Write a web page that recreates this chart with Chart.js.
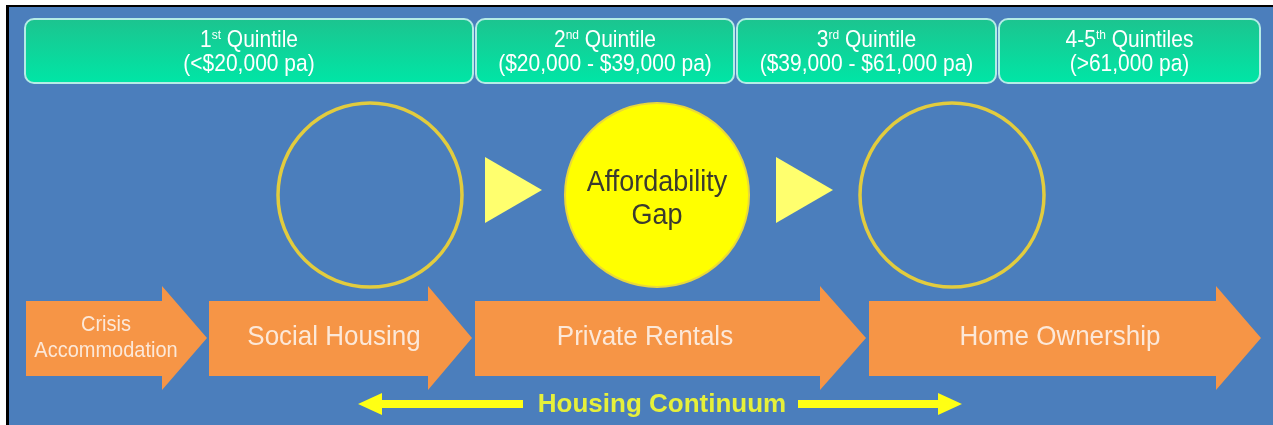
<!DOCTYPE html>
<html><head><meta charset="utf-8">
<script src="https://cdn.jsdelivr.net/npm/chart.js@4/dist/chart.umd.min.js"></script>
<style>html,body{margin:0;padding:0;background:#fff;overflow:hidden}canvas{display:block}</style>
</head><body>
<canvas id="c" width="1273" height="425"></canvas>
<script>
// ---- content ----
const quintileOrdinals = ['1', '2', '3', '4-5'];
const quintileSuffixes = ['st', 'nd', 'rd', 'th'];
const quintileWords = ['Quintile', 'Quintile', 'Quintile', 'Quintiles'];
const incomeBands = ['(<$20,000 pa)', '($20,000 - $39,000 pa)', '($39,000 - $61,000 pa)', '(>61,000 pa)'];
const stages = [['Crisis', 'Accommodation'], ['Social Housing'], ['Private Rentals'], ['Home Ownership']];
const gapLabel = ['Affordability', 'Gap'];
const continuumLabel = 'Housing Continuum';

// ---- layout (axis units) ----
const layout = {
  bands: [[25, 473], [476, 734], [737, 996], [999, 1260]], bandTop: 19, bandBottom: 83,
  stages: [[26, 162, 207], [209, 428, 472], [475, 820, 866], [869, 1216, 1261]],
  stageTextX: [106, 334, 645, 1060],
  shaftTop: 301, shaftBottom: 376, headTop: 286, headBottom: 390,
  circles: [{x: 370, y: 195}, {x: 657, y: 195}, {x: 952, y: 195}],
  triangles: [{x: 504, y: 190}, {x: 795, y: 190}],
  continuum: {y: 404, left: [358, 382, 523], right: [798, 938, 962], textX: 662}
};
const FONT = "'Liberation Sans', Arial, sans-serif";

// text drawn slightly stretched vertically, as in the reference
function tallText(ctx, text, px, py, sy) {
  ctx.save(); ctx.translate(px, py); ctx.scale(1, sy); ctx.fillText(text, 0, 0); ctx.restore();
}

const decor = {
  id: 'decor',
  beforeDatasetsDraw(chart) {
    const {ctx, scales: {x, y}} = chart;
    const X = v => x.getPixelForValue(v), Y = v => y.getPixelForValue(v);
    ctx.save();
    // page frame
    ctx.fillStyle = '#ffffff'; ctx.fillRect(0, 0, chart.width, chart.height);
    ctx.fillStyle = '#000000'; ctx.fillRect(X(6), Y(5), X(1273) - X(6), Y(425) - Y(5));
    ctx.fillStyle = '#4b7ebc'; ctx.fillRect(X(9), Y(7), X(1273) - X(9), Y(425) - Y(7));

    // quintile boxes
    layout.bands.forEach(([a, b], i) => {
      const x0 = X(a), x1 = X(b), y0 = Y(layout.bandTop), y1 = Y(layout.bandBottom);
      const g = ctx.createLinearGradient(0, y0, 0, y1);
      g.addColorStop(0, '#1cc48f'); g.addColorStop(1, '#00e6a6');
      ctx.beginPath(); ctx.roundRect(x0, y0, x1 - x0, y1 - y0, 9);
      ctx.fillStyle = g; ctx.fill();
      ctx.lineWidth = 2; ctx.strokeStyle = '#b4ece6'; ctx.stroke();
      // text line 1 with superscript
      const cx = (x0 + x1) / 2, sy = 1.1;
      const main = '21px ' + FONT, sup = '12px ' + FONT;
      ctx.fillStyle = '#ffffff'; ctx.textBaseline = 'alphabetic'; ctx.textAlign = 'left';
      ctx.font = main; const w1 = ctx.measureText(quintileOrdinals[i]).width;
      const w3 = ctx.measureText(' ' + quintileWords[i]).width;
      ctx.font = sup; const w2 = ctx.measureText(quintileSuffixes[i]).width;
      let sx = cx - (w1 + w2 + w3) / 2; const base1 = Y(47);
      ctx.font = main; tallText(ctx, quintileOrdinals[i], sx, base1, sy);
      ctx.font = sup; tallText(ctx, quintileSuffixes[i], sx + w1, base1 - 8, sy);
      ctx.font = main; tallText(ctx, ' ' + quintileWords[i], sx + w1 + w2, base1, sy);
      ctx.textAlign = 'center';
      tallText(ctx, incomeBands[i], cx, Y(71), sy);
    });

    // orange stage arrows
    layout.stages.forEach(([a, base, tip], i) => {
      const st = Y(layout.shaftTop), sb = Y(layout.shaftBottom), ht = Y(layout.headTop), hb = Y(layout.headBottom);
      const mid = (ht + hb) / 2;
      ctx.beginPath();
      ctx.moveTo(X(a), st); ctx.lineTo(X(base), st); ctx.lineTo(X(base), ht);
      ctx.lineTo(X(tip), mid); ctx.lineTo(X(base), hb); ctx.lineTo(X(base), sb);
      ctx.lineTo(X(a), sb); ctx.closePath();
      ctx.fillStyle = '#f69546'; ctx.fill();
      ctx.fillStyle = '#fce8d8'; ctx.textAlign = 'center'; ctx.textBaseline = 'middle';
      const lines = stages[i];
      if (lines.length === 1) {
        ctx.font = '26px ' + FONT; tallText(ctx, lines[0], X(layout.stageTextX[i]), Y(337), 1.08);
      } else {
        ctx.font = '20px ' + FONT;
        tallText(ctx, lines[0], X(layout.stageTextX[i]), Y(325), 1.1);
        tallText(ctx, lines[1], X(layout.stageTextX[i]), Y(351), 1.1);
      }
    });

    // housing continuum arrows
    const c = layout.continuum, cy = Y(c.y);
    ctx.fillStyle = '#ffff14';
    const [lt, lb, le] = c.left;
    ctx.fillRect(X(lb) - 1, cy - 4, X(le) - X(lb) + 1, 8);
    ctx.beginPath(); ctx.moveTo(X(lt), cy); ctx.lineTo(X(lb), cy - 11); ctx.lineTo(X(lb), cy + 11); ctx.closePath(); ctx.fill();
    const [rs, rb, rt] = c.right;
    ctx.fillRect(X(rs), cy - 4, X(rb) - X(rs) + 1, 8);
    ctx.beginPath(); ctx.moveTo(X(rt), cy); ctx.lineTo(X(rb), cy - 11); ctx.lineTo(X(rb), cy + 11); ctx.closePath(); ctx.fill();
    ctx.fillStyle = '#e6f03a'; ctx.font = 'bold 26px ' + FONT; ctx.textAlign = 'center'; ctx.textBaseline = 'middle';
    ctx.fillText(continuumLabel, X(c.textX), cy + 1);
    ctx.restore();
  },
  afterDatasetsDraw(chart) {
    const {ctx, scales: {x, y}} = chart;
    const p = layout.circles[1];
    ctx.save();
    ctx.fillStyle = '#3a3a30'; ctx.font = '27px ' + FONT; ctx.textAlign = 'center'; ctx.textBaseline = 'middle';
    tallText(ctx, gapLabel[0], x.getPixelForValue(p.x), y.getPixelForValue(183), 1.12);
    tallText(ctx, gapLabel[1], x.getPixelForValue(p.x), y.getPixelForValue(216), 1.12);
    ctx.restore();
  }
};

new Chart(document.getElementById('c'), {
  type: 'scatter',
  data: {
    datasets: [
      {
        label: 'Stages',
        data: layout.circles,
        pointRadius: 92, pointHoverRadius: 92,
        pointBorderWidth: [3.5, 2, 3.5],
        pointBorderColor: ['#e2cc3e', '#e9d83a', '#e2cc3e'],
        pointBackgroundColor: ['rgba(0,0,0,0)', '#ffff00', 'rgba(0,0,0,0)'],
        clip: false
      },
      {
        label: 'Flow',
        data: layout.triangles,
        pointStyle: 'triangle', pointRotation: 90,
        pointRadius: 38, pointHoverRadius: 38, pointBorderWidth: 0,
        pointBackgroundColor: '#ffff6e', pointBorderColor: '#ffff6e',
        clip: false
      }
    ]
  },
  options: {
    responsive: false, animation: false, events: [],
    layout: {padding: 0, autoPadding: false},
    plugins: {legend: {display: false}, tooltip: {enabled: false}},
    scales: {
      x: {type: 'linear', min: 0, max: 1273, display: false},
      y: {type: 'linear', min: 0, max: 425, reverse: true, display: false}
    }
  },
  plugins: [decor]
});
</script>
</body></html>
